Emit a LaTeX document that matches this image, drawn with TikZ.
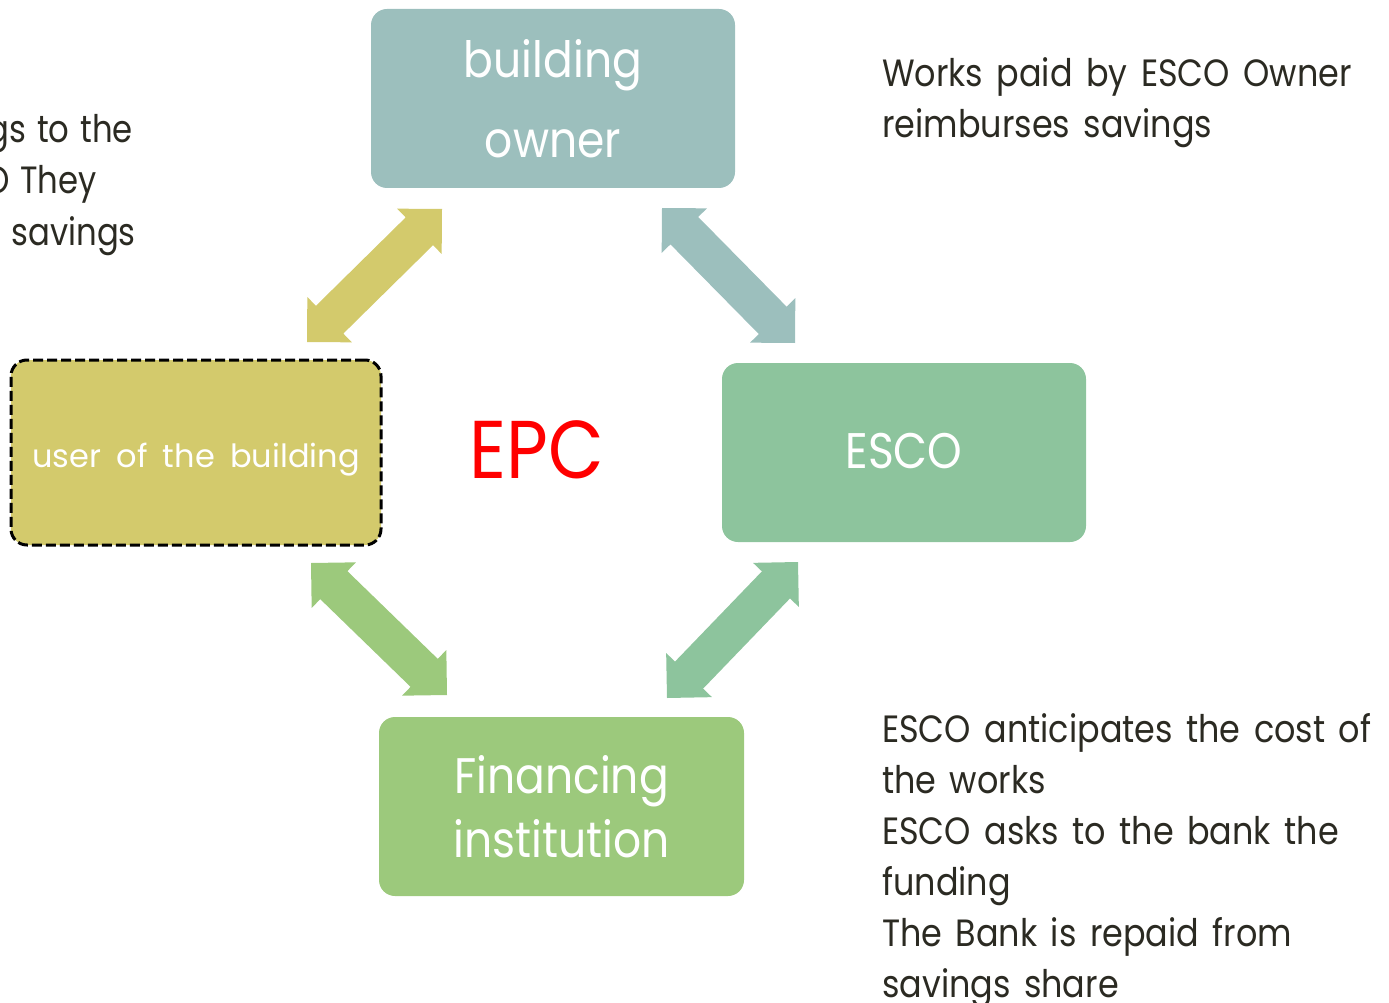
\documentclass[tikz,border=0pt]{standalone}
\usepackage{fontspec}
\setmainfont[FakeStretch=0.88,WordSpace=1.5]{Poppins}
\newfontfamily\titlefont[FakeStretch=0.88,WordSpace=1.5]{Poppins}
\newfontfamily\userfont[WordSpace=1.8]{Poppins}
\newfontfamily\sidefont[FakeStretch=0.85,WordSpace=1.25]{Poppins}
\usetikzlibrary{calc}

\definecolor{ownerc}{HTML}{9CBFBD}
\definecolor{userc}{HTML}{D3CA6C}
\definecolor{escoc}{HTML}{8DC49D}
\definecolor{finc}{HTML}{9CC97C}
\definecolor{bodytxt}{HTML}{2B2A22}
\definecolor{epcred}{HTML}{FF0000}

% double-headed block arrow between two tip coordinates
% #1, #2: tips; #3: fill colour
\newcommand\blockarrow[3]{%
  \fill[#3]
    (#1)
    -- ($(#1)!31.8pt!(#2)!31.8pt!90:(#2)$)
    -- ($(#1)!31.8pt!(#2)!19.5pt!90:(#2)$)
    -- ($(#2)!31.8pt!(#1)!19.5pt!-90:(#1)$)
    -- ($(#2)!31.8pt!(#1)!31.8pt!-90:(#1)$)
    -- (#2)
    -- ($(#2)!31.8pt!(#1)!31.8pt!90:(#1)$)
    -- ($(#2)!31.8pt!(#1)!19.5pt!90:(#1)$)
    -- ($(#1)!31.8pt!(#2)!19.5pt!-90:(#2)$)
    -- ($(#1)!31.8pt!(#2)!31.8pt!-90:(#2)$)
    -- cycle;}

\tikzset{
  box/.style={rectangle, rounded corners=16pt, text=white, align=center,
    inner sep=0pt},
  title/.style={font=\titlefont\fontsize{50pt}{64pt}\selectfont},
  body/.style={text=bodytxt, inner sep=0pt, anchor=base west,
    font=\fontsize{38pt}{51pt}\selectfont},
  bodyend/.style={body, anchor=base east,
    font=\sidefont\fontsize{38pt}{51pt}\selectfont},
}

\begin{document}
\begin{tikzpicture}[x=1pt,y=-1pt]
  \useasboundingbox (0,0) rectangle (1389,1003);
  \clip (0,0) rectangle (1389,1003);

  % parties
  \node[box, fill=ownerc, minimum width=364pt, minimum height=179pt,
        font=\titlefont\fontsize{50pt}{80pt}\selectfont]
        (owner) at (553,98.5) {building\\owner};
  \node[box, fill=userc, minimum width=370pt, minimum height=185pt,
        draw=black, line width=3pt, dash pattern=on 10pt off 4pt,
        text height=35pt, text depth=6pt,
        font=\userfont\fontsize{32pt}{36pt}\selectfont]
        (user) at (196,452.5) {user of the building};
  \node[box, fill=escoc, minimum width=364pt, minimum height=179pt, title,
        text height=31pt, text depth=0pt]
        (esco) at (904,452.5) {ESCO};
  \node[box, fill=finc, minimum width=365pt, minimum height=179pt, title]
        (fin) at (561.5,806.5) {Financing\\institution};

  \node[text=epcred, font=\titlefont\fontsize{82pt}{90pt}\selectfont,
        inner sep=0pt] (epc) at (537,450) {EPC};

  % arrow tips
  \coordinate (a1) at (307,342);  \coordinate (b1) at (442,209);
  \coordinate (a2) at (662,208);  \coordinate (b2) at (795,343);
  \coordinate (a3) at (311,563);  \coordinate (b3) at (447,695);
  \coordinate (a4) at (667,698);  \coordinate (b4) at (798,562);

  \blockarrow{a1}{b1}{userc}
  \blockarrow{a2}{b2}{ownerc}
  \blockarrow{a3}{b3}{finc}
  \blockarrow{a4}{b4}{escoc}

  % notes
  \node[bodyend] (l1) at (133,143) {gs to the};
  \node[bodyend] (l2) at (97,194) {O They};
  \node[bodyend] (l3) at (136,245) {r savings};

  \node[body] (r1) at (882,87) {Works paid by ESCO Owner};
  \node[body] (r2) at (882,138) {reimburses savings};

  \node[body] (s1) at (882,742) {ESCO anticipates the cost of};
  \node[body] (s2) at (882,793) {the works};
  \node[body] (s3) at (882,844) {ESCO asks to the bank the};
  \node[body] (s4) at (882,895) {funding};
  \node[body] (s5) at (882,946) {The Bank is repaid from};
  \node[body] (s6) at (882,997) {savings share};
\end{tikzpicture}
\end{document}
